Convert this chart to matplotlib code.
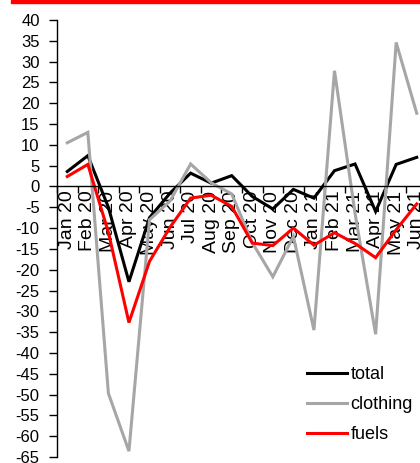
import matplotlib
matplotlib.use("Agg")
import matplotlib.pyplot as plt
from matplotlib.patches import Rectangle
import numpy as np

plt.rcParams['font.family'] = ['Liberation Sans', 'DejaVu Sans']

months = ["Jan 20", "Feb 20", "Mar 20", "Apr 20", "May 20", "Jun 20", "Jul 20",
          "Aug 20", "Sep 20", "Oct 20", "Nov 20", "Dec 20", "Jan 21", "Feb 21",
          "Mar 21", "Apr 21", "May 21", "Jun 21"]
total = [3.6, 7.4, -5.0, -22.9, -7.5, -1.6, 3.2, 0.8, 2.6, -2.4, -5.4, -0.7,
         -2.8, 3.8, 5.4, -6.0, 5.3, 7.0]
clothing = [10.5, 13.0, -49.7, -63.6, -8.0, -3.5, 5.4, 0.9, -1.8, -13.5, -21.7,
            -12.0, -34.5, 27.8, -6.5, -35.5, 34.6, 17.6]
fuels = [2.4, 5.3, -11.0, -32.7, -18.0, -9.8, -2.8, -2.1, -4.8, -13.6, -14.2,
         -10.0, -14.1, -11.1, -13.7, -17.1, -10.4, -4.2]
yticks = list(range(-65, 41, 5))

W, H = 420, 463
fig = plt.figure(figsize=(W / 100, H / 100), dpi=100)

# red top bar
fig.patches.append(Rectangle((11 / W, 1 - 3 / H), 1, 3 / H, transform=fig.transFigure,
                             color='#FF0000', zorder=5))

ax = fig.add_axes([57 / W, 6 / H, (427 - 57) / W, 437 / H])
x = np.arange(len(months))
ax.plot(x, total, color='black', lw=2.2, label='total', solid_joinstyle='miter')
ax.plot(x, clothing, color='#A6A6A6', lw=2.2, label='clothing', solid_joinstyle='miter')
ax.plot(x, fuels, color='#FF0000', lw=2.2, label='fuels', solid_joinstyle='miter')

ax.set_xlim(-0.5, len(months) - 0.5)
ax.set_ylim(-65, 40)
ax.set_yticks(yticks)
ax.set_yticklabels([str(v) for v in yticks], fontsize=12)
ax.tick_params(axis='y', direction='out', length=6, width=1, pad=6.5)

for s in ['top', 'right']:
    ax.spines[s].set_visible(False)
ax.spines['bottom'].set_position(('data', 0))
ax.spines['left'].set_linewidth(1)
ax.spines['bottom'].set_linewidth(1)

ax.set_xticks(x)
ax.set_xticklabels(months, rotation=90, fontsize=14)
ax.tick_params(axis='x', which='major', length=0, pad=3)
ax.set_xticks(np.arange(-0.5, len(months), 1.0), minor=True)
ax.tick_params(axis='x', which='minor', direction='out', length=5, width=1)

ax.legend(loc='upper left', bbox_to_anchor=(307 / W, 1 - 366 / H),
          bbox_transform=fig.transFigure, frameon=False, fontsize=13,
          handlelength=2.2, handletextpad=0.2, labelspacing=0.72,
          borderpad=0, borderaxespad=0)

fig.savefig('out.png', dpi=100)
